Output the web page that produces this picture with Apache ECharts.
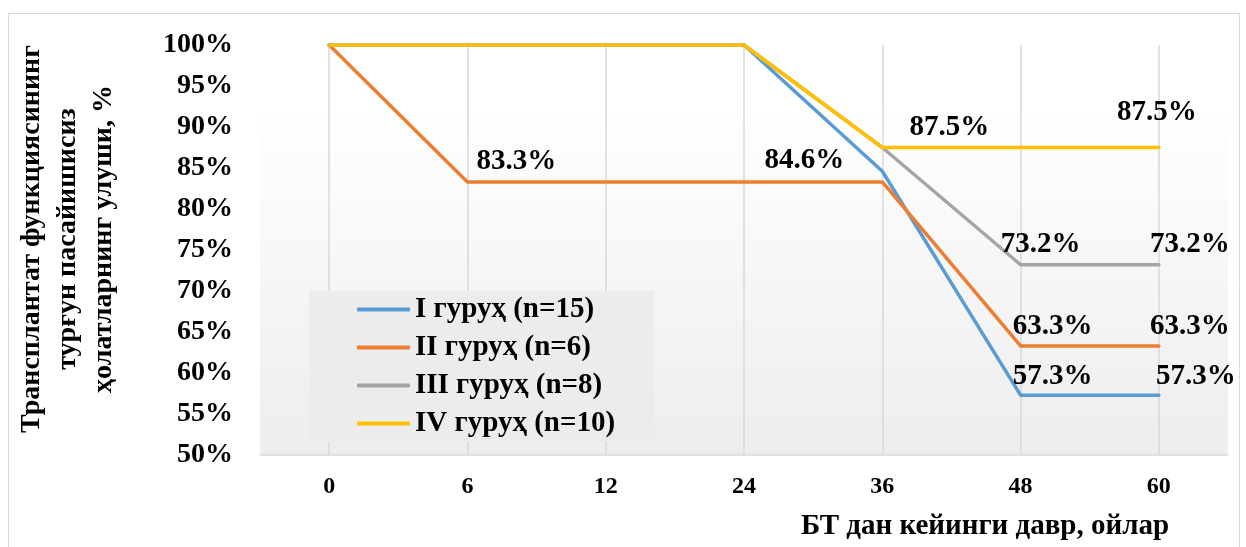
<!DOCTYPE html>
<html>
<head>
<meta charset="utf-8">
<script src="https://cdn.jsdelivr.net/npm/echarts@6/dist/echarts.min.js"></script>
<style>
html,body{margin:0;padding:0;background:#fff;}
#main{width:1246px;height:547px;}
</style>
</head>
<body>
<div id="main"></div>
<script>
// ---- data ----
const categories = ['0', '6', '12', '24', '36', '48', '60'];
const seriesNames = ['I гуруҳ (n=15)', 'II гуруҳ (n=6)', 'III гуруҳ (n=8)', 'IV гуруҳ (n=10)'];
const group1 = [100, 100, 100, 100, 84.6, 57.3, 57.3];
const group2 = [100, 83.3, 83.3, 83.3, 83.3, 63.3, 63.3];
const group3 = [100, 100, 100, 100, 87.5, 73.2, 73.2];
const group4 = [100, 100, 100, 100, 87.5, 87.5, 87.5];
const yTitle = 'Трансплантат функциясининг\nтурғун пасайишисиз\nҳолатларнинг улуши, %';
const xTitle = 'БТ дан кейинги давр, ойлар';

// ---- styles ----
const colors = ['#5b9bd5', '#ed7d31', '#a5a5a5', '#ffc000'];
const FONT = "'Liberation Serif', 'Times New Roman', serif";
// which points carry a label, and where the label sits relative to the point
const labelSpots = [
  {4: [-78, -11], 5: [32, -19], 6: [37, -19]},
  {1: [49, -20], 5: [32, -19], 6: [31, -19]},
  {5: [20, -20], 6: [31, -20]},
  {4: [67, -20], 6: [-2, -35]}
];
const allData = [group1, group2, group3, group4];

const series = allData.map((vals, s) => ({
  name: seriesNames[s],
  type: 'line',
  symbol: 'circle',
  symbolSize: 1,
  showSymbol: true,
  color: colors[s],
  lineStyle: {width: 3.5, color: colors[s], cap: 'round', join: 'round'},
  emphasis: {disabled: true},
  label: {
    show: false,
    position: 'inside',
    formatter: p => p.value.toFixed(1) + '%',
    fontFamily: FONT, fontWeight: 'bold', fontSize: 29, color: '#000'
  },
  data: vals.map((v, i) => labelSpots[s][i]
    ? {value: v, label: {show: true, offset: labelSpots[s][i]}}
    : v)
}));

const chart = echarts.init(document.getElementById('main'), null, {renderer: 'canvas'});
chart.setOption({
  backgroundColor: '#fff',
  animation: false,
  grid: {
    left: 260, right: 18, top: 45, bottom: 92,
    show: true, borderWidth: 0,
    backgroundColor: {
      type: 'linear', x: 0, y: 0, x2: 0, y2: 1,
      colorStops: [{offset: 0, color: '#ffffff'}, {offset: 0.15, color: '#ffffff'}, {offset: 1, color: '#ededed'}]
    }
  },
  legend: {
    orient: 'vertical',
    left: 309, top: 291,
    backgroundColor: '#ececec',
    padding: [4, 39, 4, 48],
    itemGap: 9,
    itemWidth: 53, itemHeight: 4,
    icon: 'roundRect',
    textStyle: {fontFamily: FONT, fontWeight: 'bold', fontSize: 29, color: '#000', lineHeight: 28},
    data: seriesNames
  },
  xAxis: {
    type: 'category',
    data: categories,
    boundaryGap: true,
    axisLine: {lineStyle: {color: '#d9d9d9', width: 1.5}},
    axisTick: {show: false},
    axisLabel: {fontFamily: FONT, fontWeight: 'bold', fontSize: 24, color: '#000', margin: 20},
    splitLine: {show: true, alignWithLabel: true, lineStyle: {color: '#d9d9d9', width: 1.5}}
  },
  yAxis: {
    type: 'value',
    min: 50, max: 100, interval: 5,
    axisLine: {show: false},
    axisTick: {show: false},
    splitLine: {show: false},
    axisLabel: {formatter: '{value}%', fontFamily: FONT, fontWeight: 'bold', fontSize: 28, color: '#000', margin: 27}
  },
  graphic: [
    {type: 'rect', silent: true, z: -10, shape: {x: 8.5, y: 13.5, width: 1231, height: 600},
     style: {fill: null, stroke: '#d9d9d9', lineWidth: 1}},
    {type: 'text', x: 68, y: 239, rotation: Math.PI / 2,
     style: {text: yTitle, fontFamily: FONT, fontWeight: 'bold', fontSize: 28, lineHeight: 36,
             fill: '#000', align: 'center', verticalAlign: 'middle'}},
    {type: 'text', x: 985, y: 527,
     style: {text: xTitle, fontFamily: FONT, fontWeight: 'bold', fontSize: 29,
             fill: '#000', align: 'center', verticalAlign: 'middle'}}
  ],
  series: series
});
</script>
</body>
</html>
